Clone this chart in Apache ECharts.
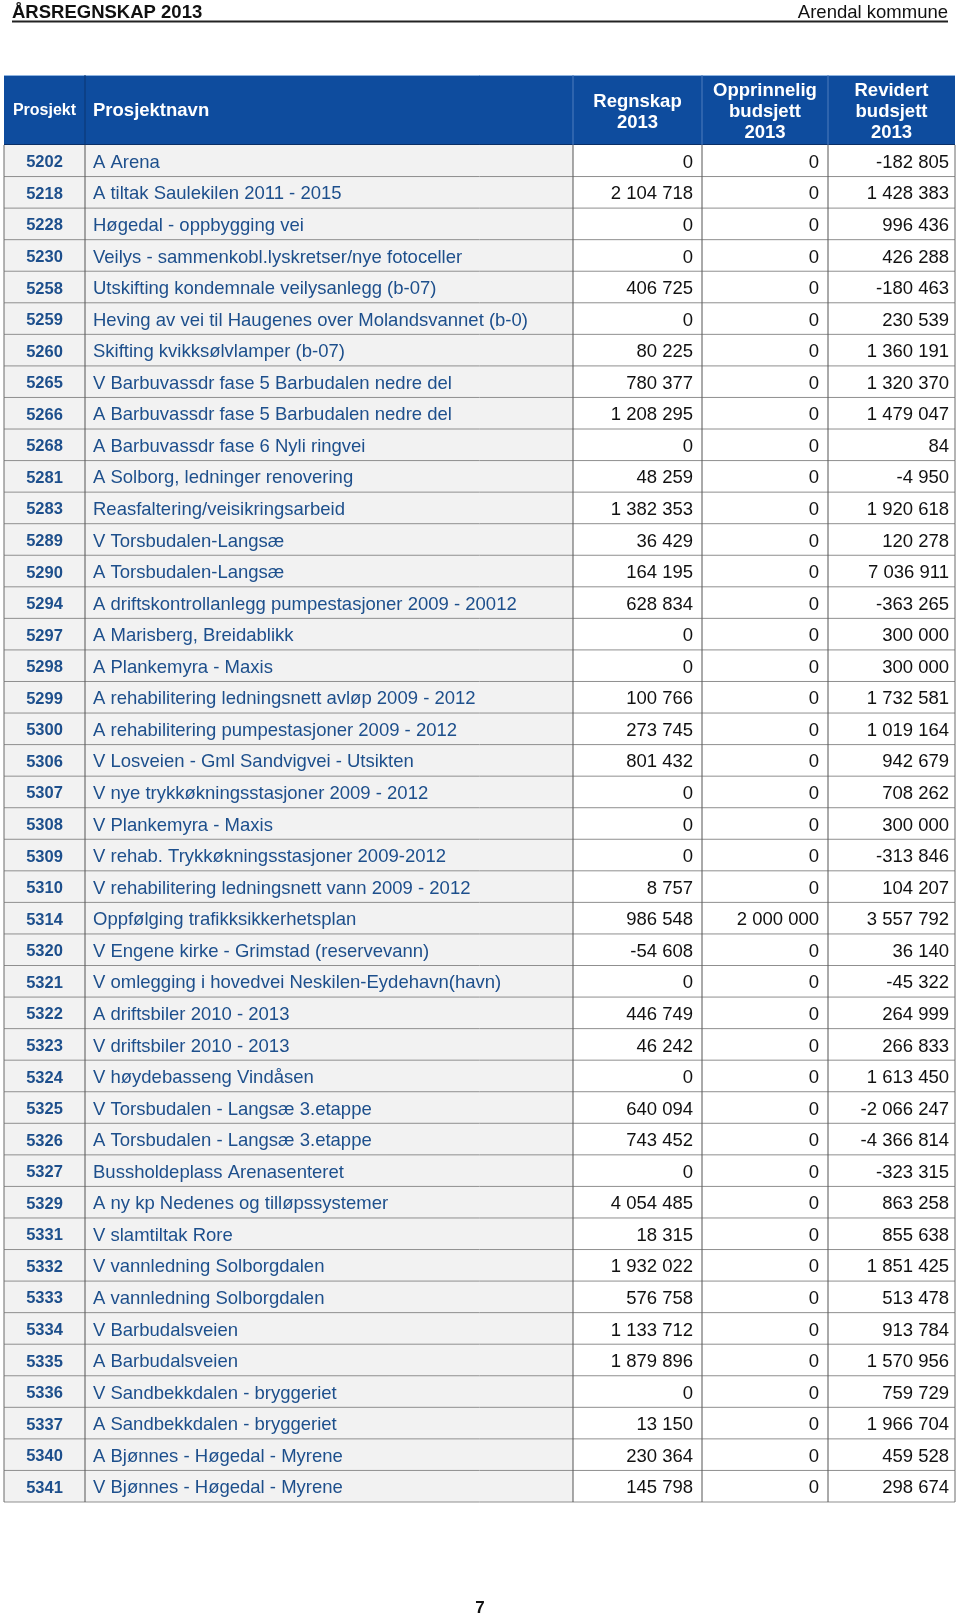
<!DOCTYPE html>
<html>
<head>
<meta charset="utf-8">
<script src="https://cdn.jsdelivr.net/npm/echarts@6/dist/echarts.min.js"></script>
<style>
html,body{margin:0;padding:0;background:#fff;}
#chart{width:960px;height:1617px;}
</style>
</head>
<body>
<div id="chart"></div>
<script>
const codes = ['5202','5218','5228','5230','5258','5259','5260','5265','5266','5268','5281','5283','5289','5290','5294','5297','5298','5299','5300','5306','5307','5308','5309','5310','5314','5320','5321','5322','5323','5324','5325','5326','5327','5329','5331','5332','5333','5334','5335','5336','5337','5340','5341'];
const names = [
 'A Arena',
 'A tiltak Saulekilen 2011 - 2015',
 'Høgedal - oppbygging vei',
 'Veilys - sammenkobl.lyskretser/nye fotoceller',
 'Utskifting kondemnale veilysanlegg (b-07)',
 'Heving av vei til Haugenes over Molandsvannet (b-0)',
 'Skifting kvikksølvlamper (b-07)',
 'V Barbuvassdr fase 5 Barbudalen nedre del',
 'A Barbuvassdr fase 5 Barbudalen nedre del',
 'A Barbuvassdr fase 6 Nyli ringvei',
 'A Solborg, ledninger renovering',
 'Reasfaltering/veisikringsarbeid',
 'V Torsbudalen-Langsæ',
 'A Torsbudalen-Langsæ',
 'A driftskontrollanlegg pumpestasjoner 2009 - 20012',
 'A Marisberg, Breidablikk',
 'A Plankemyra - Maxis',
 'A rehabilitering ledningsnett avløp 2009 - 2012',
 'A rehabilitering pumpestasjoner 2009 - 2012',
 'V Losveien - Gml Sandvigvei - Utsikten',
 'V nye trykkøkningsstasjoner 2009 - 2012',
 'V Plankemyra - Maxis',
 'V rehab. Trykkøkningsstasjoner 2009-2012',
 'V rehabilitering ledningsnett vann 2009 - 2012',
 'Oppfølging trafikksikkerhetsplan',
 'V Engene kirke - Grimstad (reservevann)',
 'V omlegging i hovedvei Neskilen-Eydehavn(havn)',
 'A driftsbiler 2010 - 2013',
 'V driftsbiler 2010 - 2013',
 'V høydebasseng Vindåsen',
 'V Torsbudalen - Langsæ 3.etappe',
 'A Torsbudalen - Langsæ 3.etappe',
 'Bussholdeplass Arenasenteret',
 'A ny kp Nedenes og tilløpssystemer',
 'V slamtiltak Rore',
 'V vannledning Solborgdalen',
 'A vannledning Solborgdalen',
 'V Barbudalsveien',
 'A Barbudalsveien',
 'V Sandbekkdalen - bryggeriet',
 'A Sandbekkdalen - bryggeriet',
 'A Bjønnes - Høgedal - Myrene',
 'V Bjønnes - Høgedal - Myrene'
];
const regnskap = [0,2104718,0,0,406725,0,80225,780377,1208295,0,48259,1382353,36429,164195,628834,0,0,100766,273745,801432,0,0,0,8757,986548,-54608,0,446749,46242,0,640094,743452,0,4054485,18315,1932022,576758,1133712,1879896,0,13150,230364,145798];
const opprinnelig = [0,0,0,0,0,0,0,0,0,0,0,0,0,0,0,0,0,0,0,0,0,0,0,0,2000000,0,0,0,0,0,0,0,0,0,0,0,0,0,0,0,0,0,0];
const revidert = [-182805,1428383,996436,426288,-180463,230539,1360191,1320370,1479047,84,-4950,1920618,120278,7036911,-363265,300000,300000,1732581,1019164,942679,708262,300000,-313846,104207,3557792,36140,-45322,264999,266833,1613450,-2066247,-4366814,-323315,863258,855638,1851425,513478,913784,1570956,759729,1966704,459528,298674];
const headerLabels = ['Prosjekt','Prosjektnavn','Regnskap\n2013','Opprinnelig\nbudsjett\n2013','Revidert\nbudsjett\n2013'];
const pageTitle = 'ÅRSREGNSKAP 2013';
const pageOwner = 'Arendal kommune';
const pageNumber = '7';

// layout (column edges in axis units = pixels relative to grid left)
const EDGES = [0, 81, 569, 698, 824, 951];
const FONT = '"Liberation Sans", Arial, Helvetica, sans-serif';
const BLUE_TEXT = '#1d4f8c';
const HEADER_BG = '#0e4c9e';
const FS = 18.5;

function fmt(v) {
  const neg = v < 0;
  let s = String(Math.abs(v));
  s = s.replace(/\B(?=(\d{3})+(?!\d))/g, ' ');
  return (neg ? '-' : '') + s;
}

function txt(text, x, y, align, size, weight, color) {
  return {
    type: 'text',
    style: {
      text: text, x: x, y: y,
      align: align, verticalAlign: 'middle',
      textAlign: align, textVerticalAlign: 'middle',
      fill: color, fontSize: size, fontWeight: weight, fontFamily: FONT
    },
    z2: 10
  };
}

function renderItem(params, api) {
  const i = api.value(1);
  const c = api.coord([0, i]);
  const h = api.size([0, 1])[1];
  const y0 = c[1] - h / 2;
  const y1 = y0 + h;
  const xs = EDGES.map(e => api.coord([e, i])[0]);
  const cy = c[1] + 2;
  const ch = [];
  ch.push({type: 'rect', shape: {x: xs[0], y: y0, width: xs[2] - xs[0], height: h}, style: {fill: '#f2f2f2'}});
  ch.push({type: 'rect', shape: {x: xs[2], y: y0, width: xs[5] - xs[2], height: h}, style: {fill: '#ffffff'}});
  ch.push({type: 'line', shape: {x1: xs[0], y1: y1, x2: xs[5], y2: y1}, style: {stroke: '#8f8f8f', lineWidth: 1}, z2: 5});
  xs.forEach((x, k) => {
    ch.push({type: 'line', shape: {x1: x, y1: y0, x2: x, y2: y1}, style: {stroke: (k === 0 || k === 5) ? '#6a6a6a' : '#555555', lineWidth: 1}, z2: 6});
  });
  ch.push(txt(codes[i], (xs[0] + xs[1]) / 2, cy, 'center', 16.5, 'bold', BLUE_TEXT));
  ch.push(txt(names[i], xs[1] + 8, cy, 'left', FS, 'normal', BLUE_TEXT));
  ch.push(txt(fmt(regnskap[i]), xs[3] - 9, cy, 'right', FS, 'normal', '#111111'));
  ch.push(txt(fmt(opprinnelig[i]), xs[4] - 9, cy, 'right', FS, 'normal', '#111111'));
  ch.push(txt(fmt(revidert[i]), xs[5] - 6, cy, 'right', FS, 'normal', '#111111'));
  return {type: 'group', children: ch};
}

const chart = echarts.init(document.getElementById('chart'), null, {renderer: 'canvas'});

const GL = 4, GT = 145, GR = 955, GB = 1502;
const HT = 75;
const colPx = EDGES.map(e => GL + e);

const graphics = [
  txt(pageTitle, 12, 12.5, 'left', FS, 'bold', '#111111'),
  txt(pageOwner, 948, 12.5, 'right', FS, 'normal', '#111111'),
  {type: 'line', shape: {x1: 12, y1: 21.5, x2: 948, y2: 21.5}, style: {stroke: '#222222', lineWidth: 2}},
  {type: 'rect', shape: {x: GL, y: HT, width: GR - GL, height: GT - HT}, style: {fill: HEADER_BG}},
  {type: 'line', shape: {x1: GL, y1: HT + 0.5, x2: GR, y2: HT + 0.5}, style: {stroke: '#8fb4e0', lineWidth: 1}},
  {type: 'line', shape: {x1: GL, y1: GT - 0.5, x2: GR, y2: GT - 0.5}, style: {stroke: '#0a2f66', lineWidth: 1}}
];
for (let k = 1; k < 5; k++) {
  graphics.push({type: 'line', shape: {x1: colPx[k], y1: HT, x2: colPx[k], y2: GT}, style: {stroke: k === 1 ? '#0a3470' : '#4f7dbd', lineWidth: 1}});
}
graphics.push(txt(headerLabels[0], (colPx[0] + colPx[1]) / 2, 110.5, 'center', 16, 'bold', '#ffffff'));
graphics.push(txt(headerLabels[1], colPx[1] + 8, 110.5, 'left', FS, 'bold', '#ffffff'));
for (let k = 2; k < 5; k++) {
  const t = txt(headerLabels[k], (colPx[k] + colPx[k + 1]) / 2, 112, 'center', FS, 'bold', '#ffffff');
  t.style.lineHeight = 21;
  graphics.push(t);
}
graphics.push(txt(pageNumber, 480, 1608, 'center', 17, 'bold', '#111111'));

chart.setOption({
  animation: false,
  backgroundColor: '#ffffff',
  grid: {left: GL, top: GT, right: 960 - GR, bottom: 1617 - GB, containLabel: false},
  xAxis: {type: 'value', min: 0, max: 951, show: false},
  yAxis: {type: 'category', data: codes, inverse: true, show: false},
  graphic: graphics,
  series: [{
    type: 'custom',
    renderItem: renderItem,
    encode: {x: 0, y: 1},
    clip: false,
    data: codes.map((c, i) => [0, i])
  }]
});
</script>
</body>
</html>
